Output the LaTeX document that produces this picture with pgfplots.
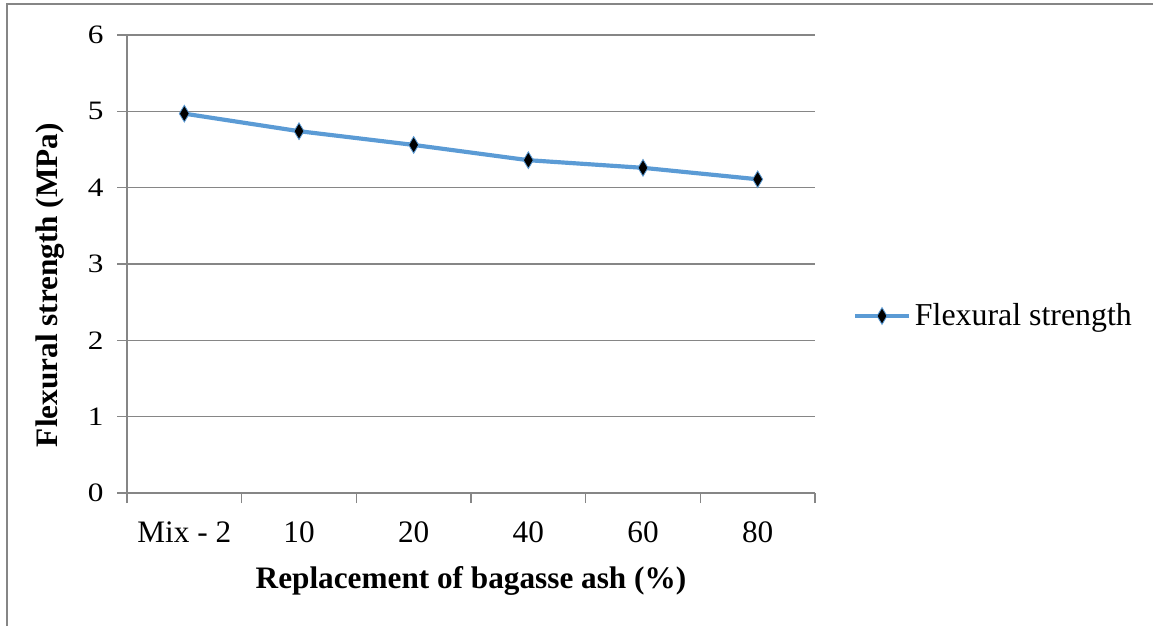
\documentclass[border=0pt]{standalone}
\usepackage{fontspec}
\setmainfont{Liberation Serif}
\usepackage{pgfplots}
\pgfplotsset{compat=1.18}
\definecolor{xlblue}{RGB}{91,155,213}
\definecolor{xlgrid}{RGB}{134,134,134}
\begin{document}
\begin{tikzpicture}
% 1 px of the reference = 0.48pt
\begin{axis}[
  at={(60.96pt,63.84pt)}, anchor=south west,
  scale only axis, width=330.24pt, height=219.84pt,
  xmin=-0.5, xmax=5.5, ymin=0, ymax=6,
  axis lines*=left,
  axis line style={xlgrid, line width=0.8pt},
  xtick={0,...,5},
  xticklabels={Mix - 2,10,20,40,60,80},
  minor xtick={-0.5,0.5,...,5.5},
  x tick style={draw=none},
  minor x tick style={draw=xlgrid, line width=0.7pt},
  minor tick length=4.8pt,
  ytick={0,...,6},
  yticklabel={\scalebox{1}[0.85]{\pgfmathprintnumber{\tick}}},
  y tick style={draw=xlgrid, line width=0.7pt},
  major tick length=4.8pt,
  tick align=outside,
  ymajorgrids,
  grid style={xlgrid, line width=0.7pt},
  /pgf/number format/assume math mode=true,
  tick label style={font=\fontsize{15}{17}\selectfont, black},
  xticklabel style={anchor=base, yshift=-18.8pt},
  yticklabel style={anchor=east, xshift=-3pt},
  xlabel={Replacement of bagasse ash (\%)},
  ylabel={Flexural strength (MPa)},
  label style={font=\fontsize{15}{17}\selectfont\bfseries},
  xlabel style={at={(axis description cs:0.5,0)}, anchor=base, yshift=-45.6pt},
  ylabel style={at={(axis description cs:0,0.454)}, anchor=base, yshift=33.6pt},
  legend style={at={(axis description cs:1.055,0.3865)}, anchor=west, draw=none, fill=none,
    font=\fontsize{15.3}{17}\selectfont, inner sep=0pt, row sep=0pt},
  legend cell align=left,
  legend image code/.code={\draw[mark repeat=2,mark phase=2] plot coordinates {(0cm,0cm)(0.45cm,0cm)(0.9cm,0cm)};},
  clip=false,
]
\addplot[xlblue, line width=2pt, mark=diamond*,
  mark size=4pt, mark options={fill=black, draw=xlblue, line width=0.4pt, xscale=0.8}]
  coordinates {(0,4.97) (1,4.74) (2,4.56) (3,4.36) (4,4.26) (5,4.11)};
\addlegendentry{Flexural strength}
\end{axis}
\draw[xlgrid, line width=1pt] (3.36pt,0pt) -- (3.36pt,298.56pt) -- (553.44pt,298.56pt);
\pgfresetboundingbox
\useasboundingbox (0,0) rectangle (553.44pt,300.48pt);
\end{tikzpicture}
\end{document}
